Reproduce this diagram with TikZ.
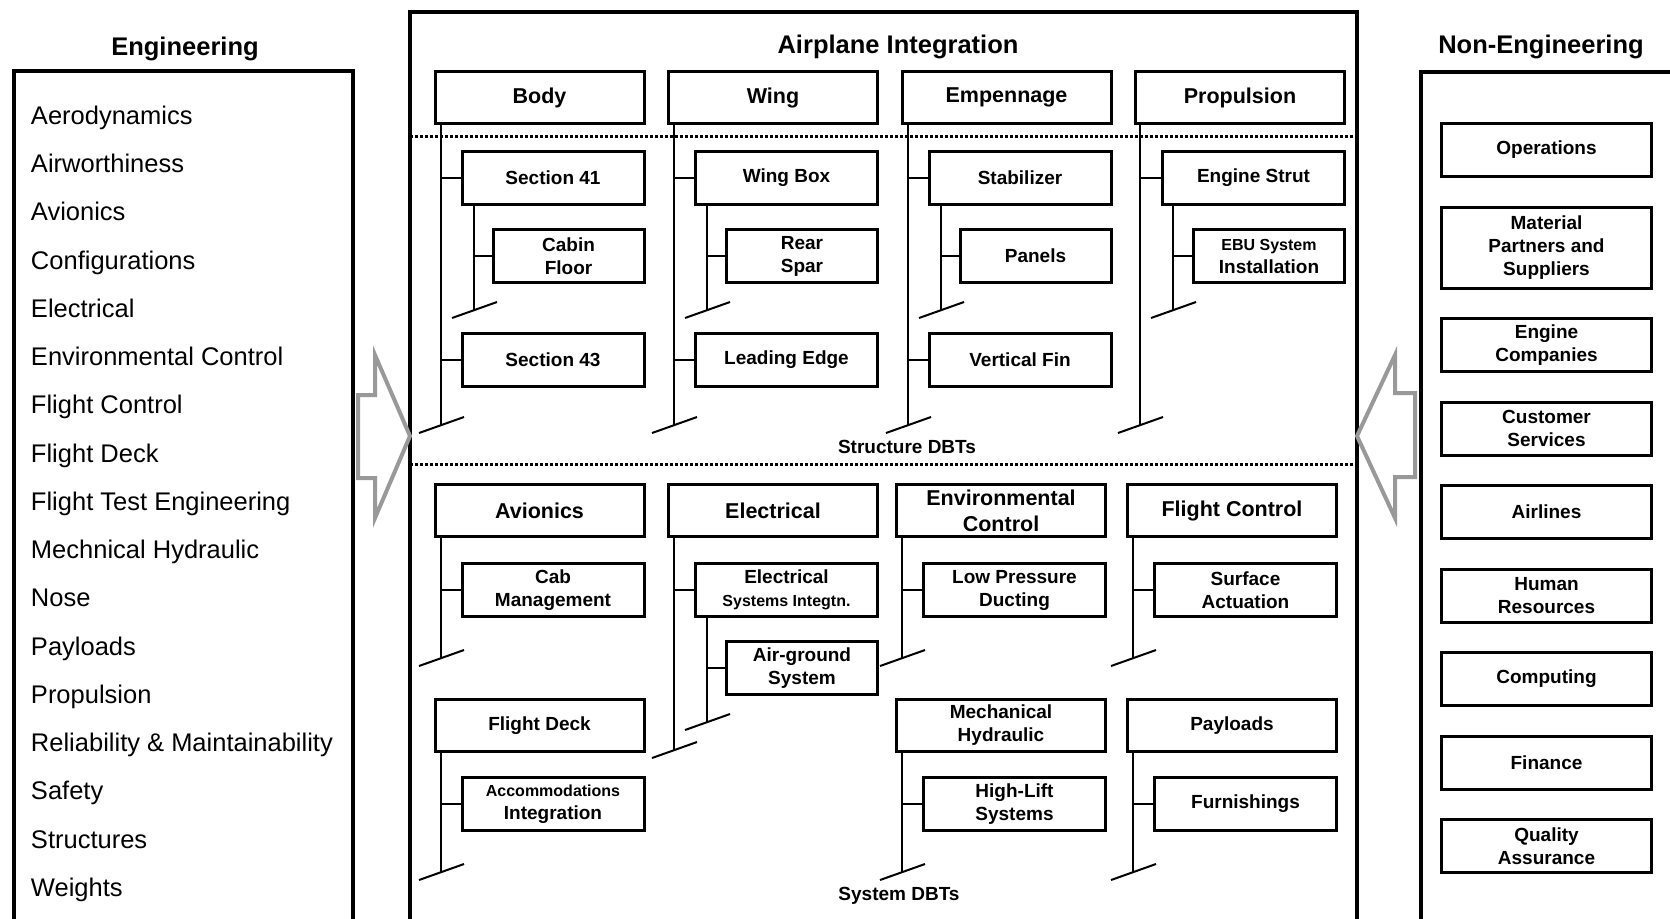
\documentclass[tikz,border=0pt]{standalone}
\usepackage{fontspec}
\setmainfont{Liberation Sans}
\usepackage{tikz}
\usetikzlibrary{positioning}

\tikzset{
  outerframe/.style={draw, line width=2pt},
  heading/.style={font=\bfseries\fontsize{12.75}{15}\selectfont},
  engitem/.style={font=\fontsize{12.75}{15}\selectfont, inner sep=0pt, outer sep=0pt, minimum height=24.125pt, text height=9.2pt, text depth=2.6pt},
  headbox/.style={draw, line width=1.5pt, minimum width=104.5pt, minimum height=26pt, inner sep=0.5pt, align=center, font=\bfseries\fontsize{10.75}{13}\selectfont},
  headsmall/.style={headbox, font=\bfseries\fontsize{9.5}{11.5}\selectfont},
  lvltwo/.style={draw, line width=1.5pt, minimum width=91pt, minimum height=26.5pt, inner sep=0.5pt, align=center, font=\bfseries\fontsize{9.5}{11.5}\selectfont},
  lvlthree/.style={lvltwo, minimum width=75.5pt},
  nonengbox/.style={lvltwo, minimum width=105pt},
  dbtlabel/.style={font=\bfseries\fontsize{9.5}{11.5}\selectfont},
  branch/.style={line width=1pt},
  sepline/.style={line width=1.5pt, dash pattern=on 1.4pt off 1.1pt},
  hollowarrow/.style={draw=black!40, line width=2pt, line join=miter}
}

\begin{document}
\begin{tikzpicture}[x=0.5pt, y=-0.5pt]
  \useasboundingbox (0,0) rectangle (1670,918);

  % frames
  \draw[outerframe] (14,71) rectangle (353,940);
  \draw[outerframe] (410,12) rectangle (1357,940);
  \draw[outerframe] (1421,72) rectangle (1700,940);

  \node[heading] (engtitle) at (185,49) {Engineering};
  \node[heading] (aititle) at (898,47) {Airplane Integration};
  \node[heading] (nonengtitle) at (1541,47) {Non-Engineering};

  % engineering list
  \node[engitem, anchor=west] (aero) at (31,117.7) {Aerodynamics};
  \node[engitem, below=0pt of aero.south west, anchor=north west] (airw) {Airworthiness};
  \node[engitem, below=0pt of airw.south west, anchor=north west] (avi) {Avionics};
  \node[engitem, below=0pt of avi.south west, anchor=north west] (config) {Configurations};
  \node[engitem, below=0pt of config.south west, anchor=north west] (elect) {Electrical};
  \node[engitem, below=0pt of elect.south west, anchor=north west] (envir) {Environmental Control};
  \node[engitem, below=0pt of envir.south west, anchor=north west] (flctl) {Flight Control};
  \node[engitem, below=0pt of flctl.south west, anchor=north west] (fldeck) {Flight Deck};
  \node[engitem, below=0pt of fldeck.south west, anchor=north west] (fltest) {Flight Test Engineering};
  \node[engitem, below=0pt of fltest.south west, anchor=north west] (mechhy) {Mechnical Hydraulic};
  \node[engitem, below=0pt of mechhy.south west, anchor=north west] (nose) {Nose};
  \node[engitem, below=0pt of nose.south west, anchor=north west] (payl) {Payloads};
  \node[engitem, below=0pt of payl.south west, anchor=north west] (propu) {Propulsion};
  \node[engitem, below=0pt of propu.south west, anchor=north west] (relia) {Reliability \& Maintainability};
  \node[engitem, below=0pt of relia.south west, anchor=north west] (safety) {Safety};
  \node[engitem, below=0pt of safety.south west, anchor=north west] (struct) {Structures};
  \node[engitem, below=0pt of struct.south west, anchor=north west] (weights) {Weights};

  % non-engineering boxes
  \node[nonengbox] (ops) at (1546.5,150) {Operations};
  \node[nonengbox, minimum height=40.5pt, below=13.75pt of ops] (matl) {Material\\Partners and\\Suppliers};
  \node[nonengbox, below=13.75pt of matl] (engco) {Engine\\Companies};
  \node[nonengbox, below=13.75pt of engco] (custsv) {Customer\\Services};
  \node[nonengbox, below=13.75pt of custsv] (airl) {Airlines};
  \node[nonengbox, below=13.75pt of airl] (humres) {Human\\Resources};
  \node[nonengbox, below=13.75pt of humres] (comp) {Computing};
  \node[nonengbox, below=13.75pt of comp] (fin) {Finance};
  \node[nonengbox, below=13.75pt of fin] (qual) {Quality\\Assurance};

  % structure DBTs
  \draw[sepline] (410,136) -- (1357,136);
  \draw[sepline] (410,464) -- (1357,464);

  \node[headbox] (body) at (539.5,97.5) {Body};
  \node[headbox, right=10.75pt of body] (wing) {Wing};
  \node[headbox, right=10.75pt of wing] (empen) {Empennage};
  \node[headbox, right=10.75pt of empen] (prop) {Propulsion};

  \node[lvltwo, below=12.5pt of body.south east, anchor=north east] (sec41) {Section 41};
  \node[lvlthree, below=11pt of sec41.south east, anchor=north east] (cabin) {Cabin\\Floor};
  \node[lvltwo, below=24pt of cabin.south east, anchor=north east] (sec43) {Section 43};
  \node[lvltwo, below=12.5pt of wing.south east, anchor=north east] (wingbox) {Wing Box};
  \node[lvlthree, below=11pt of wingbox.south east, anchor=north east] (rearspar) {Rear\\Spar};
  \node[lvltwo, below=24pt of rearspar.south east, anchor=north east] (leadedge) {Leading Edge};
  \node[lvltwo, below=12.5pt of empen.south east, anchor=north east] (stab) {Stabilizer};
  \node[lvlthree, below=11pt of stab.south east, anchor=north east] (panels) {Panels};
  \node[lvltwo, below=24pt of panels.south east, anchor=north east] (vertfin) {Vertical Fin};
  \node[lvltwo, below=12.5pt of prop.south east, anchor=north east] (strut) {Engine Strut};
  \node[lvlthree, below=11pt of strut.south east, anchor=north east] (ebu) {{\fontsize{8}{10}\selectfont EBU System}\\Installation};

  \node[dbtlabel] (structdbt) at (907,447) {Structure DBTs};

  \coordinate (bodyend) at (441,425);
  \coordinate (sec41end) at (474,310);
  \coordinate (wingend) at (674,425);
  \coordinate (wingboxend) at (707,310);
  \coordinate (empenend) at (908,425);
  \coordinate (stabend) at (941,310);
  \coordinate (propend) at (1140,425);
  \coordinate (strutend) at (1173,310);

  \draw[branch] (body.south -| bodyend) -- (bodyend);
  \draw[branch] (sec41.west) -- (sec41.west -| bodyend);
  \draw[branch] (sec43.west) -- (sec43.west -| bodyend);
  \draw[branch] (sec41.south -| sec41end) -- (sec41end);
  \draw[branch] (cabin.west) -- (cabin.west -| sec41end);
  \draw[branch] (bodyend) +(-22,8) -- +(23,-8);
  \draw[branch] (sec41end) +(-22,8) -- +(23,-8);

  \draw[branch] (wing.south -| wingend) -- (wingend);
  \draw[branch] (wingbox.west) -- (wingbox.west -| wingend);
  \draw[branch] (leadedge.west) -- (leadedge.west -| wingend);
  \draw[branch] (wingbox.south -| wingboxend) -- (wingboxend);
  \draw[branch] (rearspar.west) -- (rearspar.west -| wingboxend);
  \draw[branch] (wingend) +(-22,8) -- +(23,-8);
  \draw[branch] (wingboxend) +(-22,8) -- +(23,-8);

  \draw[branch] (empen.south -| empenend) -- (empenend);
  \draw[branch] (stab.west) -- (stab.west -| empenend);
  \draw[branch] (vertfin.west) -- (vertfin.west -| empenend);
  \draw[branch] (stab.south -| stabend) -- (stabend);
  \draw[branch] (panels.west) -- (panels.west -| stabend);
  \draw[branch] (empenend) +(-22,8) -- +(23,-8);
  \draw[branch] (stabend) +(-22,8) -- +(23,-8);

  \draw[branch] (prop.south -| propend) -- (propend);
  \draw[branch] (strut.west) -- (strut.west -| propend);
  \draw[branch] (strut.south -| strutend) -- (strutend);
  \draw[branch] (ebu.west) -- (ebu.west -| strutend);
  \draw[branch] (propend) +(-22,8) -- +(23,-8);
  \draw[branch] (strutend) +(-22,8) -- +(23,-8);

  % system DBTs
  \node[headbox] (avio) at (539.5,510.5) {Avionics};
  \node[headbox, right=10.75pt of avio] (elec) {Electrical};
  \node[headbox, right=8pt of elec] (envctl) {Environmental\\Control};
  \node[headbox, right=9.5pt of envctl] (fltctl) {Flight Control};

  \node[lvltwo, below=12pt of avio.south east, anchor=north east] (cabmgmt) {Cab\\Management};
  \node[lvltwo, below=12pt of elec.south east, anchor=north east] (elecsys) {Electrical\\{\fontsize{8}{10}\selectfont Systems Integtn.}};
  \node[lvlthree, below=11pt of elecsys.south east, anchor=north east] (airgnd) {Air-ground\\System};
  \node[lvltwo, below=12pt of envctl.south east, anchor=north east] (lowpress) {Low Pressure\\Ducting};
  \node[lvltwo, below=12pt of fltctl.south east, anchor=north east] (surfact) {Surface\\Actuation};

  \node[headsmall, below=40pt of cabmgmt.south east, anchor=north east] (fltdeck) {Flight Deck};
  \node[headsmall, below=40pt of lowpress.south east, anchor=north east] (mechhyd) {Mechanical\\Hydraulic};
  \node[headsmall, below=40pt of surfact.south east, anchor=north east] (paylds) {Payloads};
  \node[lvltwo, below=11.5pt of fltdeck.south east, anchor=north east] (accom) {{\fontsize{8}{10}\selectfont Accommodations}\\Integration};
  \node[lvltwo, below=11.5pt of mechhyd.south east, anchor=north east] (highlift) {High-Lift\\Systems};
  \node[lvltwo, below=11.5pt of paylds.south east, anchor=north east] (furnish) {Furnishings};

  \node[dbtlabel] (sysdbt) at (899,896) {System DBTs};

  \coordinate (avioend) at (441,658);
  \coordinate (elecend) at (674,750);
  \coordinate (elecsysend) at (707,722);
  \coordinate (envctlend) at (902,658);
  \coordinate (fltctlend) at (1133,658);
  \coordinate (fltdeckend) at (441,872);
  \coordinate (mechhydend) at (902,872);
  \coordinate (payldsend) at (1133,872);

  \draw[branch] (avio.south -| avioend) -- (avioend);
  \draw[branch] (cabmgmt.west) -- (cabmgmt.west -| avioend);
  \draw[branch] (avioend) +(-22,8) -- +(23,-8);

  \draw[branch] (elec.south -| elecend) -- (elecend);
  \draw[branch] (elecsys.west) -- (elecsys.west -| elecend);
  \draw[branch] (elecsys.south -| elecsysend) -- (elecsysend);
  \draw[branch] (airgnd.west) -- (airgnd.west -| elecsysend);
  \draw[branch] (elecend) +(-22,8) -- +(23,-8);
  \draw[branch] (elecsysend) +(-22,8) -- +(23,-8);

  \draw[branch] (envctl.south -| envctlend) -- (envctlend);
  \draw[branch] (lowpress.west) -- (lowpress.west -| envctlend);
  \draw[branch] (envctlend) +(-22,8) -- +(23,-8);

  \draw[branch] (fltctl.south -| fltctlend) -- (fltctlend);
  \draw[branch] (surfact.west) -- (surfact.west -| fltctlend);
  \draw[branch] (fltctlend) +(-22,8) -- +(23,-8);

  \draw[branch] (fltdeck.south -| fltdeckend) -- (fltdeckend);
  \draw[branch] (accom.west) -- (accom.west -| fltdeckend);
  \draw[branch] (fltdeckend) +(-22,8) -- +(23,-8);

  \draw[branch] (mechhyd.south -| mechhydend) -- (mechhydend);
  \draw[branch] (highlift.west) -- (highlift.west -| mechhydend);
  \draw[branch] (mechhydend) +(-22,8) -- +(23,-8);

  \draw[branch] (paylds.south -| payldsend) -- (payldsend);
  \draw[branch] (furnish.west) -- (furnish.west -| payldsend);
  \draw[branch] (payldsend) +(-22,8) -- +(23,-8);

  % hollow arrows
  \draw[hollowarrow] (358,395) -- (375,395) -- (375,355) -- (410,436) -- (375,518) -- (375,478) -- (358,478) -- cycle;
  \draw[hollowarrow] (1415,393) -- (1395,393) -- (1395,355) -- (1357,436) -- (1395,518) -- (1395,477) -- (1415,477) -- cycle;
\end{tikzpicture}
\end{document}
